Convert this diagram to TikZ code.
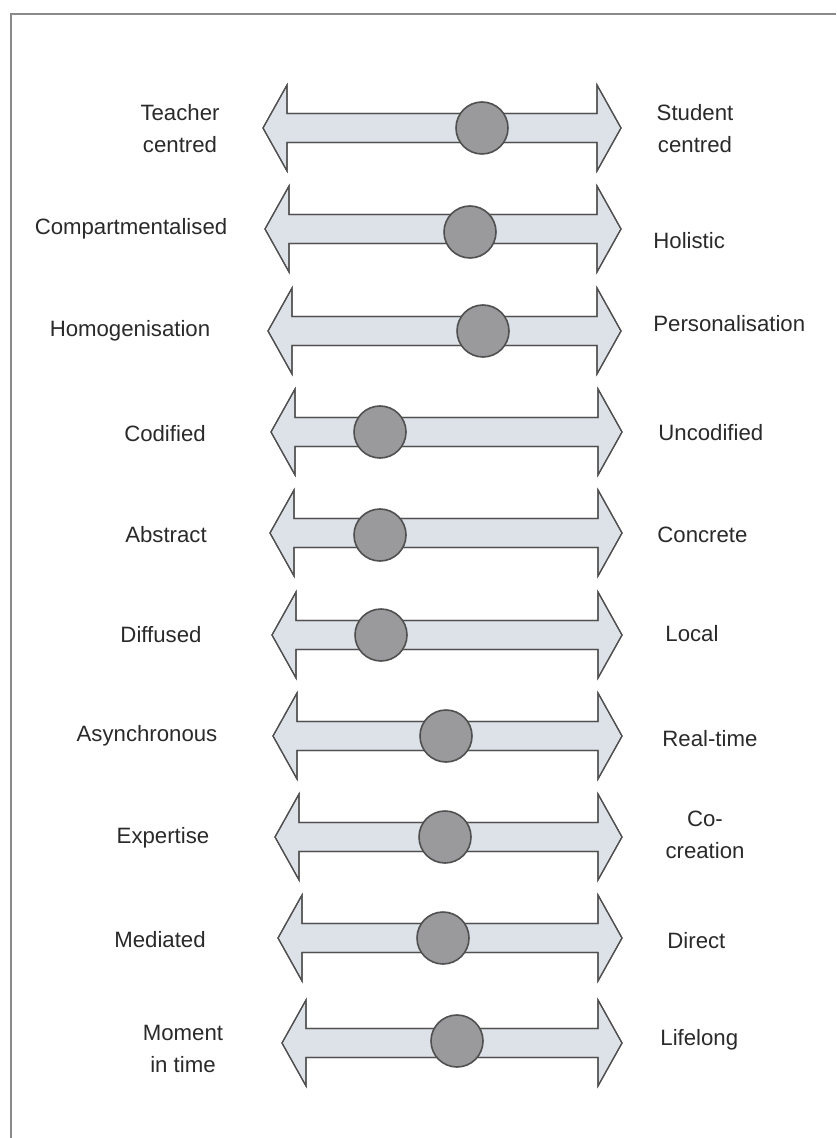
\documentclass[tikz,border=0pt]{standalone}
\usepackage{fontspec}
\setmainfont{Liberation Sans}
\definecolor{shaft}{HTML}{DDE1E8}
\definecolor{knob}{HTML}{9A9A9C}
\definecolor{edge}{HTML}{505050}
\definecolor{ink}{HTML}{2A2A2A}
\definecolor{frame}{HTML}{8A8A8A}
\tikzset{
  lab/.style={font=\fontsize{11.1}{16}\selectfont, text=ink, align=center, inner sep=0pt},
  rlab/.style={lab, anchor=west},
  knobnode/.style={circle, draw=edge, line width=0.8pt, fill=knob, minimum size=26pt, inner sep=0pt},
  arrowshape/.style={draw=edge, line width=0.6pt, fill=shaft, line join=miter}
}
\newcommand{\dblarrow}[3]{% #1 y, #2 left tip x, #3 right tip x
  \fill[arrowshape] (#2,#1) -- ({#2+24},{#1-43}) -- ({#2+24},{#1-14.5}) -- ({#3-24},{#1-14.5}) -- ({#3-24},{#1-43})
     -- (#3,#1) -- ({#3-24},{#1+43}) -- ({#3-24},{#1+14.5}) -- ({#2+24},{#1+14.5}) -- ({#2+24},{#1+43}) -- cycle;
  \draw[arrowshape, fill=none] (#2,#1) -- ({#2+24},{#1-43}) -- ({#2+24},{#1-14.5}) -- ({#3-24},{#1-14.5}) -- ({#3-24},{#1-43})
     -- (#3,#1) -- ({#3-24},{#1+43}) -- ({#3-24},{#1+14.5}) -- ({#2+24},{#1+14.5}) -- ({#2+24},{#1+43}) -- cycle;
}
\begin{document}
\begin{tikzpicture}[x=0.5pt, y=-0.5pt]
\useasboundingbox (0,0) rectangle (836,1138);
\fill[white] (0,0) rectangle (836,1138);
\draw[frame, line width=1.2pt] (11,1138) -- (11,14) -- (836,14);

% arrows
\dblarrow{128}{263}{621}
\dblarrow{229}{265}{621}
\dblarrow{331}{268}{621}
\dblarrow{432}{271}{622}
\dblarrow{533}{270}{622}
\dblarrow{635}{272}{622}
\dblarrow{736}{273}{622}
\dblarrow{837}{275}{622}
\dblarrow{938}{278}{622}
\dblarrow{1043}{282}{622}

% markers
\node[knobnode] (k1) at (482,128) {};
\node[knobnode] (k2) at (470,232) {};
\node[knobnode] (k3) at (483,331) {};
\node[knobnode] (k4) at (380,432) {};
\node[knobnode] (k5) at (380,535) {};
\node[knobnode] (k6) at (381,635) {};
\node[knobnode] (k7) at (446,736) {};
\node[knobnode] (k8) at (445,837) {};
\node[knobnode] (k9) at (443,938) {};
\node[knobnode] (k10) at (457,1041) {};

% left labels
\node[lab] (l1) at (180,129) {Teacher\\centred};
\node[lab] (l2) at (131,229) {Compartmentalised};
\node[lab] (l3) at (130,331) {Homogenisation};
\node[lab] (l4) at (165,434) {Codified};
\node[lab] (l5) at (166,535) {Abstract};
\node[lab] (l6) at (161,635) {Diffused};
\node[lab] (l7) at (147,736) {Asynchronous};
\node[lab] (l8) at (163,838) {Expertise};
\node[lab] (l9) at (160,940) {Mediated};
\node[lab] (l10) at (183,1049) {Moment\\in time};

% right labels
\node[lab] (r1) at (695,129) {Student\\centred};
\node[rlab] (r2) at (653,241) {Holistic};
\node[rlab] (r3) at (653,324) {Personalisation};
\node[rlab] (r4) at (658,433) {Uncodified};
\node[rlab] (r5) at (657,535) {Concrete};
\node[rlab] (r6) at (665,634) {Local};
\node[rlab] (r7) at (662,739) {Real-time};
\node[lab] (r8) at (705,835) {Co-\\creation};
\node[rlab] (r9) at (667,941) {Direct};
\node[rlab] (r10) at (660,1040) {Lifelong};
\end{tikzpicture}
\end{document}
